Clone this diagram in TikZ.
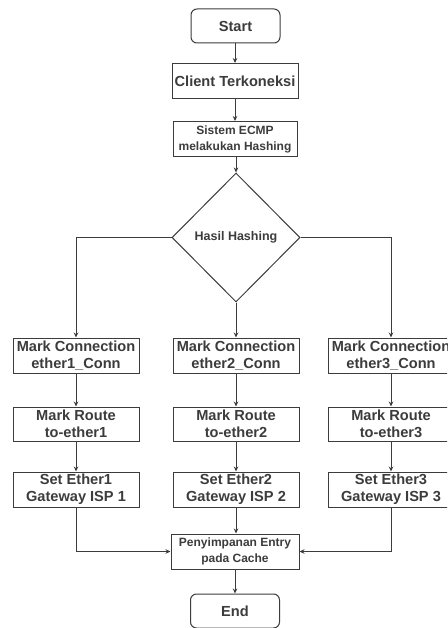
\documentclass[tikz,border=0pt]{standalone}
\usepackage{fontspec}
\setmainfont{Liberation Sans}
\usetikzlibrary{shapes.geometric,arrows.meta}
\definecolor{ink}{HTML}{3C3C3C}
\tikzset{
  box/.style={draw=ink, line width=1pt, text=ink, inner sep=0pt, align=center,
    minimum width=126pt, minimum height=35pt,
    font=\fontsize{14.6}{17}\selectfont\bfseries},
  smallbox/.style={box, font=\fontsize{12}{16}\selectfont\bfseries},
  term/.style={box, rounded corners=6pt, minimum width=89pt, minimum height=34pt},
  decision/.style={draw=ink, line width=1pt, text=ink, shape=diamond, inner sep=0pt,
    minimum width=128pt, minimum height=129pt,
    font=\fontsize{12.5}{15}\selectfont\bfseries},
  flow/.style={draw=ink, line width=1pt, -{Stealth[length=5pt,width=4.5pt]}},
  link/.style={draw=ink, line width=1pt}
}
\begin{document}
\begin{tikzpicture}[x=1pt,y=-1pt]
\clip (0,0) rectangle (447,628);
\fill[white] (0,0) rectangle (447,628);

% main column
\node[term] (start) at (235.5,26) {Start};
\node[box] (client) at (235,81) {Client Terkoneksi};
\node[smallbox, minimum width=124pt] (ecmp) at (235,139) {Sistem ECMP\\melakukan Hashing};
\node[decision] (hash) at (236,237.5) {Hasil Hashing};

% three branches
\node[box] (conn1) at (76,355.5) {Mark Connection\\ether1\_Conn};
\node[box] (conn2) at (236,355.5) {Mark Connection\\ether2\_Conn};
\node[box] (conn3) at (391,355.5) {Mark Connection\\ether3\_Conn};

\node[box, minimum height=34pt] (route1) at (76,424) {Mark Route\\to-ether1};
\node[box, minimum height=34pt] (route2) at (236,424) {Mark Route\\to-ether2};
\node[box, minimum height=34pt] (route3) at (391,424) {Mark Route\\to-ether3};

\node[box] (gw1) at (76,489.5) {Set Ether1\\Gateway ISP 1};
\node[box] (gw2) at (236,489.5) {Set Ether2\\Gateway ISP 2};
\node[box] (gw3) at (391,489.5) {Set Ether3\\Gateway ISP 3};

% merge and end
\node[smallbox, minimum width=128pt] (cache) at (235,551.5) {Penyimpanan Entry\\pada Cache};
\node[term] (stop) at (235,611) {End};

% connectors
\draw[flow] (start.south -| client.north) -- (client.north);
\draw[flow] (client) -- (ecmp);
\draw[flow] (ecmp.south -| hash.north) -- (hash.north);
\draw[flow] (hash.west) -| (conn1.north);
\draw[flow] (hash.south) -- (conn2.north);
\draw[flow] (hash.east) -| (conn3.north);
\foreach \i in {1,2,3}{
  \draw[flow] (conn\i) -- (route\i);
  \draw[flow] (route\i) -- (gw\i);
}
\draw[flow] (gw1.south) |- (cache.west);
\draw[flow] (gw2.south) -- (gw2.south |- cache.north);
\draw[flow] (gw3.south) |- (cache.east);
\draw[flow] (cache.south -| stop.north) -- (stop.north);
\end{tikzpicture}
\end{document}
